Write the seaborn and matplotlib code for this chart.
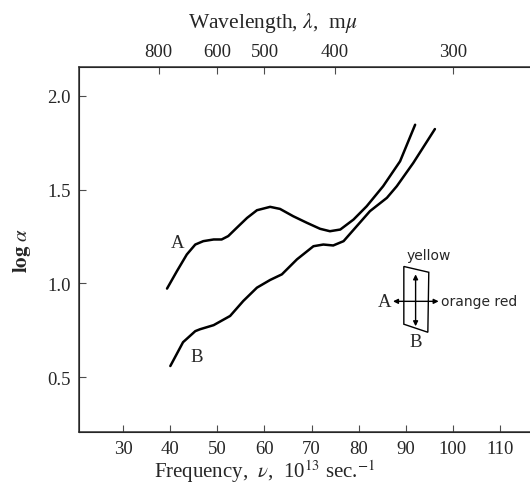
import matplotlib
matplotlib.use("Agg")
import matplotlib.pyplot as plt
import seaborn as sns
import pandas as pd
from matplotlib.patches import Polygon

# curve A (frequency in 10^13 sec^-1, log alpha)
a_freq = [39.3, 41.4, 43.5, 45.3, 47.0, 49.2, 50.9, 52.3, 54.1, 56.3, 58.4, 61.2,
          63.3, 66.1, 69.0, 71.8, 73.9, 76.1, 78.9, 81.7, 85.2, 88.8, 92.0]
a_log = [0.972, 1.065, 1.154, 1.207, 1.225, 1.234, 1.234, 1.252, 1.296, 1.349, 1.390, 1.408,
         1.397, 1.358, 1.323, 1.291, 1.278, 1.287, 1.340, 1.411, 1.518, 1.651, 1.846]

# curve B
b_freq = [40.0, 42.7, 45.3, 46.3, 49.2, 52.7, 55.5, 58.4, 61.2, 63.7, 66.9, 70.4,
          72.5, 74.6, 76.8, 79.6, 82.4, 86.0, 88.1, 91.6, 96.2]
b_log = [0.559, 0.686, 0.745, 0.755, 0.777, 0.826, 0.906, 0.977, 1.018, 1.048, 1.128, 1.198,
         1.207, 1.202, 1.225, 1.305, 1.385, 1.456, 1.518, 1.642, 1.823]

freq_ticks = [30, 40, 50, 60, 70, 80, 90, 100, 110]
log_ticks = [0.5, 1.0, 1.5, 2.0]
wavelength_ticks = [800, 600, 500, 400, 300]


def main():
    df = pd.DataFrame({
        'freq': a_freq + b_freq,
        'log_alpha': a_log + b_log,
        'curve': ['A'] * len(a_freq) + ['B'] * len(b_freq),
    })

    sns.set_style('ticks')
    plt.rcParams['font.family'] = ['Liberation Serif', 'DejaVu Serif']
    plt.rcParams['mathtext.fontset'] = 'stix'

    fig = plt.figure(figsize=(5.3, 4.89), dpi=100)
    ax = fig.add_axes([79 / 530, 56 / 489, 1 - 79 / 530, 365 / 489])

    sns.lineplot(data=df, x='freq', y='log_alpha', hue='curve', palette=['black', 'black'],
                 linewidth=1.8, legend=False, sort=False, ax=ax)

    ax.set_xlim(20.6, 116.4)
    ax.set_ylim(0.207, 2.154)
    ax.set_xticks(freq_ticks)
    ax.set_yticks(log_ticks)
    ax.set_yticklabels([f'{v:.1f}' for v in log_ticks])
    ax.tick_params(direction='in', length=5, width=0.8, labelsize=13.5, pad=6, color='0.3')
    ax.set_xlabel('')
    ax.set_ylabel(r'$\mathbf{log}$ $\alpha$', fontsize=15, labelpad=10)
    ax.spines['right'].set_visible(False)
    for s in ['left', 'bottom', 'top']:
        ax.spines[s].set_linewidth(1.1)
        ax.spines[s].set_color('0.2')

    # wavelength scale on top: lambda (m mu) = 30000 / nu (10^13 sec^-1)
    top = ax.twiny()
    top.set_xlim(ax.get_xlim())
    top.set_xticks([30000 / w for w in wavelength_ticks])
    top.set_xticklabels([str(w) for w in wavelength_ticks])
    top.tick_params(direction='in', length=5, width=0.8, labelsize=13.5, pad=5, color='0.3')
    top.spines['right'].set_visible(False)

    fig.text(273 / 530, 1 - 23 / 489, r'Wavelength, $\lambda$,  m$\mu$', ha='center', va='center',
             fontsize=15.5)
    fig.text(265 / 530, 1 - 472 / 489, r'Frequency,  $\nu$,  10$^{13}$ sec.$^{-1}$', ha='center',
             va='center', fontsize=15)

    # curve labels
    ax.text(41.5, 1.218, 'A', fontsize=13.5, ha='center', va='center')
    ax.text(45.7, 0.61, 'B', fontsize=13.5, ha='center', va='center')

    # polarisation inset
    ax.add_patch(Polygon([(89.6, 1.09), (94.9, 1.059), (94.7, 0.739), (89.6, 0.782)],
                         closed=True, fill=False, edgecolor='black', linewidth=1.0))
    ax.annotate('', xy=(92.1, 1.048), xytext=(92.1, 0.771),
                arrowprops=dict(arrowstyle='<|-|>', color='black', lw=1.0,
                                mutation_scale=7, shrinkA=0, shrinkB=0))
    ax.annotate('', xy=(87.3, 0.904), xytext=(97.0, 0.904),
                arrowprops=dict(arrowstyle='<|-|>', color='black', lw=1.0,
                                mutation_scale=7, shrinkA=0, shrinkB=0))
    ax.text(85.6, 0.904, 'A', fontsize=13.5, ha='center', va='center')
    ax.text(92.1, 0.69, 'B', fontsize=13.5, ha='center', va='center')
    ax.text(94.8, 1.152, 'yellow', fontsize=10, ha='center', va='center',
            family=['DejaVu Sans'])
    ax.text(97.4, 0.904, 'orange red', fontsize=10, ha='left', va='center',
            family=['DejaVu Sans'], clip_on=False)

    fig.savefig('out.png', dpi=100)
    plt.close(fig)


if __name__ == '__main__':
    main()
